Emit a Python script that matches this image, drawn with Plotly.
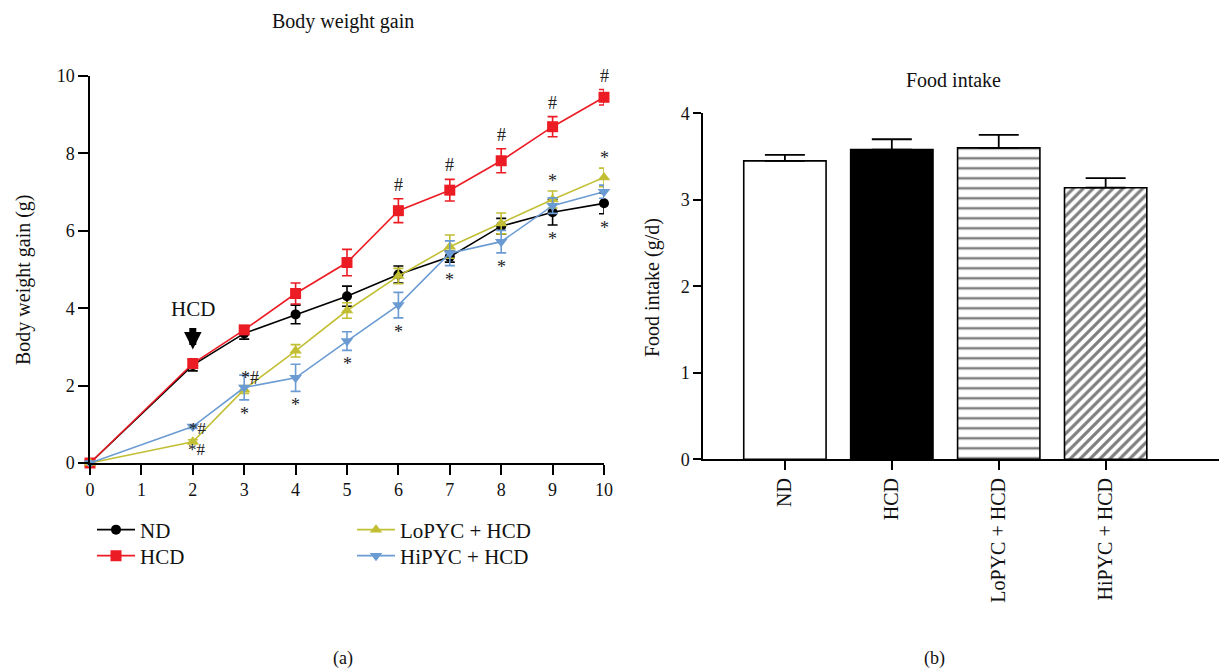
import plotly.graph_objects as go

W, H = 1219, 669

# ---- data: body weight gain ----
weeks = [0, 2, 3, 4, 5, 6, 7, 8, 9, 10]
nd = [0, 2.53, 3.35, 3.84, 4.31, 4.87, 5.33, 6.12, 6.48, 6.71]
nd_err = [0, 0.15, 0.15, 0.24, 0.26, 0.22, 0.14, 0.2, 0.33, 0.27]
hcd = [0, 2.57, 3.44, 4.38, 5.18, 6.52, 7.05, 7.81, 8.69, 9.45]
hcd_err = [0, 0.06, 0.09, 0.27, 0.34, 0.31, 0.28, 0.31, 0.26, 0.2]
lo = [0, 0.55, 1.9, 2.9, 3.94, 4.83, 5.59, 6.19, 6.81, 7.38]
lo_err = [0, 0.05, 0.1, 0.16, 0.2, 0.2, 0.3, 0.27, 0.22, 0.24]
hi = [0, 0.94, 1.95, 2.2, 3.15, 4.08, 5.42, 5.72, 6.65, 7.01]
hi_err = [0, 0.05, 0.32, 0.35, 0.24, 0.33, 0.32, 0.29, 0.2, 0.17]

# ---- data: food intake ----
groups = ["ND", "HCD", "LoPYC + HCD", "HiPYC + HCD"]
food = [3.45, 3.58, 3.6, 3.14]
food_err = [0.07, 0.12, 0.15, 0.11]

FONT = "Liberation Serif, Times New Roman, serif"
RED = "#ec1c24"
YEL = "#c2bf35"
BLUE = "#6b9bd3"

fig = go.Figure()

series = [
    ("ND", nd, nd_err, "black", "circle", 10, "legend"),
    ("HCD", hcd, hcd_err, RED, "square", 11, "legend2"),
    ("LoPYC + HCD", lo, lo_err, YEL, "triangle-up", 11, "legend3"),
    ("HiPYC + HCD", hi, hi_err, BLUE, "triangle-down", 11, "legend4"),
]
for name, ys, es, col, sym, sz, lg in series:
    fig.add_trace(go.Scatter(
        x=weeks, y=ys, name=name, mode="lines+markers",
        line=dict(color=col, width=1.6),
        marker=dict(color=col, symbol=sym, size=sz),
        error_y=dict(type="data", array=es, color=col, thickness=1.6, width=5),
        cliponaxis=False, legend=lg, xaxis="x", yaxis="y",
    ))

# bar chart: one trace per group so each gets its own fill pattern
bar_styles = [
    dict(color="white", pattern=dict(shape="")),
    dict(color="black", pattern=dict(shape="")),
    dict(color="white", pattern=dict(shape="-", size=10, solidity=0.25,
                                     fgcolor="black", bgcolor="white")),
    dict(color="white", pattern=dict(shape="/", size=7, solidity=0.45,
                                     fgcolor="black", bgcolor="white")),
]
for g, v, e, st in zip(groups, food, food_err, bar_styles):
    fig.add_trace(go.Bar(
        x=[g], y=[v], width=0.77,
        marker=dict(color=st["color"], line=dict(color="black", width=1.6),
                    pattern=st["pattern"]),
        error_y=dict(type="data", symmetric=False, array=[e], arrayminus=[0],
                     color="black", thickness=1.8, width=20),
        showlegend=False, xaxis="x2", yaxis="y2",
    ))

# annotations: significance marks derived from data
ann = []
def add_txt(x, y, t, yanchor="middle", xshift=0, yshift=0, size=18):
    ann.append(dict(x=x, y=y, xref="x", yref="y", text=t, showarrow=False,
                    font=dict(family=FONT, size=size, color="#222"),
                    yanchor=yanchor, xshift=xshift, yshift=yshift))

for i, w in enumerate(weeks):
    if w >= 6:
        add_txt(w, hcd[i] + hcd_err[i], "#", "bottom", yshift=2)
    if w >= 9:
        add_txt(w, lo[i] + lo_err[i], "*", "bottom", yshift=-2)
    if w >= 3:
        low = min(nd[i] - nd_err[i], lo[i] - lo_err[i], hi[i] - hi_err[i])
        add_txt(w, low, "*", "top", yshift=-2)
i2 = weeks.index(2)
i3 = weeks.index(3)
add_txt(2, hi[i2], "*#", xshift=5, yshift=-2, size=17)
add_txt(2, lo[i2], "*#", xshift=4, yshift=-8, size=17)
add_txt(3, hi[i3], "*#", xshift=6, yshift=10)

# HCD label + arrow
ann.append(dict(x=2, y=hcd[i2], xref="x", yref="y", text="", showarrow=True,
                ax=0, ay=-23, arrowhead=2, arrowwidth=7, arrowsize=0.5,
                arrowcolor="black", yshift=14, standoff=0))
ann.append(dict(x=2, y=hcd[i2], xref="x", yref="y", text="HCD", showarrow=False,
                font=dict(family=FONT, size=21, color="#111"), yshift=55))

# titles, axis titles and captions
def paper_txt(px, py, t, size, angle=0):
    ann.append(dict(x=px / W, y=1 - py / H, xref="paper", yref="paper", text=t,
                    showarrow=False, font=dict(family=FONT, size=size, color="#111"),
                    xanchor="center", yanchor="middle", textangle=angle))
paper_txt(343, 22, "Body weight gain", 20)
paper_txt(953, 80, "Food intake", 20)
paper_txt(343, 658, "(a)", 18)
paper_txt(934, 658, "(b)", 18)
paper_txt(24, 280, "Body weight gain (g)", 20, -90)
paper_txt(652, 288, "Food intake (g/d)", 20, -90)

axis_common = dict(showline=True, linecolor="black", linewidth=1.5, ticks="outside",
                   tickcolor="black", tickwidth=1.5, showgrid=False, zeroline=False,
                   automargin=False, tickfont=dict(family=FONT, size=18, color="#111"))

leg_common = dict(xanchor="left", yanchor="middle", itemwidth=38,
                  font=dict(family=FONT, size=21, color="#111"),
                  bgcolor="rgba(0,0,0,0)")

fig.update_layout(
    width=W, height=H, margin=dict(l=0, r=0, t=0, b=0, autoexpand=False),
    paper_bgcolor="white", plot_bgcolor="white",
    font=dict(family=FONT, color="#111"),
    barmode="overlay",
    xaxis=dict(domain=[90 / W, 604 / W], range=[0, 10], tickvals=list(range(11)),
               ticklen=10, anchor="y", **axis_common),
    yaxis=dict(domain=[1 - 463 / H, 1 - 76 / H], range=[0, 10], tickvals=[0, 2, 4, 6, 8, 10],
               ticklen=10, anchor="x", **axis_common),
    xaxis2=dict(domain=[703 / W, 1.0], range=[-0.766, 4.06], type="category",
                ticklen=9, tickangle=-90, anchor="y2",
                **{**axis_common, "tickfont": dict(family=FONT, size=20, color="#111")}),
    yaxis2=dict(domain=[1 - 459.3 / H, 1 - 113.3 / H], range=[0, 4], tickvals=[0, 1, 2, 3, 4],
                ticklen=8, anchor="x2", **axis_common),
    legend=dict(x=92 / W, y=1 - 530 / H, **leg_common),
    legend2=dict(x=92 / W, y=1 - 556 / H, **leg_common),
    legend3=dict(x=352 / W, y=1 - 530 / H, **leg_common),
    legend4=dict(x=352 / W, y=1 - 556 / H, **leg_common),
    annotations=ann,
)

fig.write_html("out.html", config={"displayModeBar": False},
               post_script="document.body.style.margin='0';document.body.style.overflow='hidden';")
